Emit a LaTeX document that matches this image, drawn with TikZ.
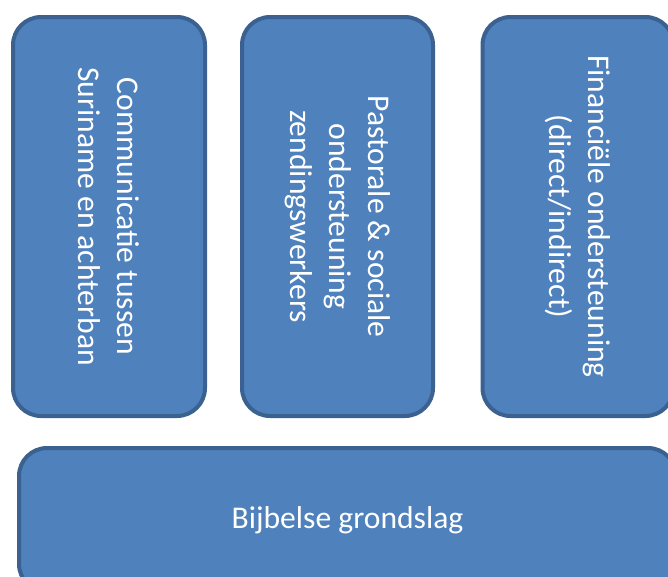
\documentclass[tikz,border=0pt]{standalone}
\usepackage{fontspec}
\setmainfont{Carlito}
\definecolor{boxfill}{HTML}{4F81BD}
\definecolor{boxline}{HTML}{3A6190}

\begin{document}
\begin{tikzpicture}[x=1pt, y=-1pt]
    \tikzstyle{pillar}=[draw=boxline, fill=boxfill, line width=4pt, rounded corners=28pt,
        inner sep=0pt, text=white, align=center, font=\fontsize{31.6}{39}\selectfont]
    \tikzstyle{vpillar}=[pillar, rotate=-90, minimum width=399pt, minimum height=192pt]

    \clip (0, 0) rectangle (668, 576);

    % three pillars, text runs top to bottom
    \node[vpillar] (comm) at (109, 216.5) {Communicatie tussen\\Suriname en achterban};
    \node[vpillar, minimum height=191pt] (past) at (337.5, 216.5) {Pastorale \& sociale\\ondersteuning\\zendingswerkers};
    \node[vpillar, minimum height=191pt] (fin) at (578, 216.5) {Financiële ondersteuning\\(direct/indirect)};

    % foundation
    \node[pillar, minimum width=657pt, minimum height=144pt] (bijbel) at (347.5, 520) {Bijbelse grondslag};

\end{tikzpicture}
\end{document}
